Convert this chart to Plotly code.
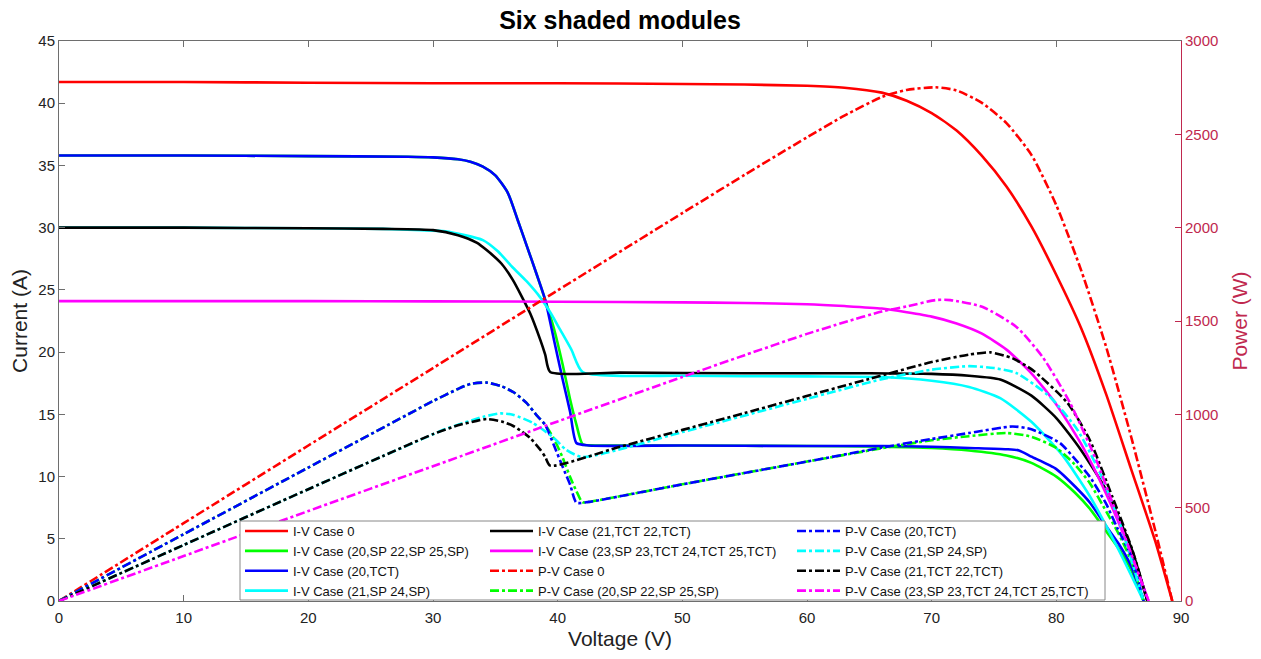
import plotly.graph_objects as go

# ---------------- data ----------------
# I-V Case 0
v_iv0 = [0, 10, 20, 30, 40, 50, 55, 60, 63, 66, 68, 70, 72, 74, 76, 78, 80, 82, 84, 86, 88, 89.3]
i_iv0 = [41.7, 41.7, 41.65, 41.6, 41.6, 41.55, 41.5, 41.4, 41.25, 40.85, 40.2, 39.2, 37.8, 35.8, 33.3, 30.1, 26.2, 21.9, 16.6, 10.6, 4.6, 0]

# I-V Case (20,SP 22,SP 25,SP)
v_iv20sp = [0, 10, 20, 28, 30, 32, 33, 34, 35, 36, 36.8, 37.5, 38.3, 39, 39.7, 40.4, 41, 41.5, 42, 43, 50, 60, 66, 70, 73, 76, 78, 80, 81.5, 82.7, 84, 85, 86, 87]
i_iv20sp = [35.8, 35.8, 35.75, 35.7, 35.65, 35.5, 35.3, 34.9, 34.2, 32.8, 30.6, 28.6, 26.3, 24.2, 21.9, 19.0, 16.2, 14.2, 12.6, 12.5, 12.5, 12.45, 12.4, 12.3, 12.1, 11.7, 11.1, 10.0, 8.7, 7.4, 5.6, 4.2, 2.5, 0]

# I-V Case (20,TCT)
v_iv20tct = [0, 10, 20, 28, 30, 32, 33, 34, 35, 36, 36.8, 37.5, 38.3, 39, 39.7, 40.4, 41, 41.5, 42.5, 50, 60, 66, 70, 73, 76, 77, 78, 80, 81.5, 82.7, 84, 85, 86, 87]
i_iv20tct = [35.8, 35.8, 35.75, 35.7, 35.65, 35.5, 35.3, 34.9, 34.2, 32.8, 30.6, 28.6, 26.3, 24.2, 21.0, 17.8, 15.2, 12.7, 12.5, 12.5, 12.45, 12.45, 12.4, 12.3, 12.2, 12.1, 11.6, 10.6, 9.2, 7.9, 6.0, 4.6, 2.8, 0]

# I-V Case (21,SP 24,SP)
v_iv21sp = [0, 10, 20, 26, 29, 31, 34.0, 35.2, 36.4, 37.5, 38.6, 39.4, 40.2, 41.1, 42.0, 50, 60, 66, 70, 73, 75.5, 78, 80.5, 82.7, 84.9, 87.0]
i_iv21sp = [30.0, 30.0, 29.95, 29.9, 29.8, 29.7, 29.0, 28.1, 26.8, 25.7, 24.4, 23.2, 21.8, 20.2, 18.4, 18.1, 18.05, 18.0, 17.7, 17.2, 16.3, 14.4, 11.7, 8.4, 4.3, 0]

# I-V Case (21,TCT 22,TCT)
v_iv21tct = [0, 10, 20, 26, 30, 32, 33.5, 34.3, 35.5, 36.4, 37.1, 37.8, 38.6, 39.0, 39.4, 45, 55, 65, 70, 73, 75.5, 78, 80, 82, 84, 86, 87.3]
i_iv21tct = [30.0, 30.0, 29.95, 29.9, 29.8, 29.4, 28.8, 28.2, 27.1, 25.8, 24.5, 23.1, 21.0, 19.8, 18.4, 18.35, 18.3, 18.3, 18.25, 18.1, 17.8, 16.5, 14.7, 12.1, 8.9, 4.3, 0]

# I-V Case (23,SP 23,TCT 24,TCT 25,TCT)
v_iv23 = [0, 10, 20, 30, 40, 50, 55, 60, 63, 66, 68, 70, 72, 74, 76, 78, 80, 82, 84, 86, 87.4]
i_iv23 = [24.1, 24.1, 24.1, 24.08, 24.05, 24.0, 23.95, 23.85, 23.7, 23.5, 23.2, 22.85, 22.3, 21.5, 20.2, 18.3, 15.8, 12.6, 8.6, 3.8, 0]

# P-V Case 0
v_pv0 = [0, 10, 20, 30, 40, 50, 55, 60, 63, 66, 68, 70.3, 72, 74, 76, 78, 80, 82, 84, 86, 88, 89.3]
p_pv0 = [0, 417, 833, 1248, 1664, 2078, 2283, 2484, 2600, 2700, 2738, 2752, 2735, 2670, 2560, 2390, 2120, 1770, 1360, 880, 360, 0]

# P-V Case (20,SP 22,SP 25,SP)
v_pv20sp = [0, 10, 20, 28, 30, 32, 33, 34.3, 35.5, 36.5, 37.5, 38.3, 39, 39.7, 40.4, 41, 41.5, 42, 43, 50, 60, 66, 70, 73, 76, 78, 80, 81.5, 82.7, 84, 85, 86, 87]
p_pv20sp = [0, 358, 715, 1000, 1071, 1136, 1163, 1170, 1150, 1117, 1061, 996, 944, 869, 768, 664, 589, 529, 537, 625, 747, 818, 861, 883, 900, 880, 820, 730, 630, 480, 360, 215, 0]

# P-V Case (20,TCT)
v_pv20tct = [0, 10, 20, 28, 30, 32, 33, 34.3, 35.5, 36.5, 37.5, 38.3, 39, 39.7, 40.4, 41, 41.5, 42.5, 50, 60, 66, 70, 73, 76.5, 78, 80.3, 81.5, 82.7, 84, 84.9, 86, 87]
p_pv20tct = [0, 358, 715, 1000, 1071, 1136, 1163, 1170, 1150, 1117, 1061, 996, 944, 834, 719, 623, 527, 531, 625, 747, 822, 868, 900, 935, 920, 846, 760, 664, 520, 390, 240, 0]

# P-V Case (21,SP 24,SP)
v_pv21sp = [0, 10, 20, 26, 29, 31, 34.0, 35.4, 36.4, 38.0, 39.6, 40.7, 42.0, 50, 60, 66, 70, 73, 75, 76.8, 79.5, 81.7, 83.5, 85.1, 87.0]
p_pv21sp = [0, 300, 599, 777, 864, 921, 986, 1005, 998, 954, 879, 809, 771, 905, 1083, 1188, 1239, 1258, 1248, 1221, 1093, 916, 686, 418, 0]

# P-V Case (21,TCT 22,TCT)
v_pv21tct = [0, 10, 20, 26, 30, 32, 33.5, 34.3, 35.5, 36.4, 37.1, 37.8, 38.6, 39.0, 39.4, 45, 55, 65, 70, 73, 74.7, 76.5, 78.1, 80.9, 82.7, 84.5, 86.1, 87.3]
p_pv21tct = [0, 300, 599, 777, 894, 941, 965, 975, 962, 939, 909, 873, 811, 772, 725, 826, 1007, 1190, 1280, 1320, 1332, 1300, 1237, 1061, 860, 557, 273, 0]

# P-V Case (23,SP 23,TCT 24,TCT 25,TCT)
v_pv23 = [0, 10, 20, 30, 40, 50, 55, 60, 63, 66, 68, 70.3, 71.5, 74.1, 76.8, 78.9, 81.1, 83.3, 85.3, 87.4]
p_pv23 = [0, 241, 482, 722, 962, 1200, 1317, 1431, 1493, 1551, 1578, 1612, 1612, 1575, 1468, 1307, 1061, 739, 380, 0]

x_ticks = [0, 10, 20, 30, 40, 50, 60, 70, 80, 90]
y_ticks = [0, 5, 10, 15, 20, 25, 30, 35, 40, 45]
y2_ticks = [0, 500, 1000, 1500, 2000, 2500, 3000]

# ---------------- figure ----------------
W, H = 1261, 659
L, R, T, B = 59, 80, 41, 58
PW, PH = W - L - R, H - T - B

FONT = "Arial, Liberation Sans, sans-serif"
RED2 = "#C0284E"
AXC = "#6e6e6e"

series = [
    ("I-V Case 0", v_iv0, i_iv0, "#FF0000", "solid", "y", "legend"),
    ("I-V Case (20,SP 22,SP 25,SP)", v_iv20sp, i_iv20sp, "#00FF00", "solid", "y", "legend"),
    ("I-V Case (20,TCT)", v_iv20tct, i_iv20tct, "#0000FF", "solid", "y", "legend"),
    ("I-V Case (21,SP 24,SP)", v_iv21sp, i_iv21sp, "#00FFFF", "solid", "y", "legend"),
    ("I-V Case (21,TCT 22,TCT)", v_iv21tct, i_iv21tct, "#000000", "solid", "y", "legend2"),
    ("I-V Case (23,SP 23,TCT 24,TCT 25,TCT)", v_iv23, i_iv23, "#FF00FF", "solid", "y", "legend2"),
    ("P-V Case 0", v_pv0, p_pv0, "#FF0000", "dashdot", "y2", "legend2"),
    ("P-V Case (20,SP 22,SP 25,SP)", v_pv20sp, p_pv20sp, "#00FF00", "dashdot", "y2", "legend2"),
    ("P-V Case (20,TCT)", v_pv20tct, p_pv20tct, "#0000FF", "dashdot", "y2", "legend3"),
    ("P-V Case (21,SP 24,SP)", v_pv21sp, p_pv21sp, "#00FFFF", "dashdot", "y2", "legend3"),
    ("P-V Case (21,TCT 22,TCT)", v_pv21tct, p_pv21tct, "#000000", "dashdot", "y2", "legend3"),
    ("P-V Case (23,SP 23,TCT 24,TCT 25,TCT)", v_pv23, p_pv23, "#FF00FF", "dashdot", "y2", "legend3"),
]

fig = go.Figure()
for name, xs, ys, col, dash, yax, leg in series:
    fig.add_trace(go.Scatter(
        x=xs, y=ys, name=name, mode="lines", yaxis=yax, legend=leg,
        line=dict(color=col, width=2.6, dash=dash, shape="spline", smoothing=0.6),
    ))

def px_x(p):
    return (p - L) / PW

def px_y(p):
    return (H - B - p) / PH

legend_common = dict(
    bgcolor="rgba(0,0,0,0)", borderwidth=0, orientation="v",
    font=dict(family=FONT, size=13, color="#111"),
    yanchor="top", xanchor="left", y=px_y(516), itemwidth=43, tracegroupgap=0,
)

fig.update_layout(
    width=W, height=H,
    margin=dict(l=L, r=R, t=T, b=B),
    paper_bgcolor="white", plot_bgcolor="white",
    font=dict(family=FONT, color="#111"),
    title=dict(text="<b>Six shaded modules</b>", x=620 / W, xanchor="center",
               y=1 - 20 / H, yanchor="middle", yref="container",
               font=dict(size=25, family=FONT, color="#000")),
    xaxis=dict(range=[0, 90], tickvals=x_ticks, showgrid=False, zeroline=False,
               showline=True, linecolor=AXC, linewidth=1, mirror="ticks",
               ticks="inside", ticklen=6, tickcolor=AXC, ticklabelstandoff=3,
               tickfont=dict(size=15, color="#222"),
               title=dict(text="Voltage (V)", font=dict(size=21, color="#222"), standoff=6)),
    yaxis=dict(range=[0, 45], tickvals=y_ticks, showgrid=False, zeroline=False,
               showline=True, linecolor=AXC, linewidth=1,
               ticks="inside", ticklen=6, tickcolor=AXC,
               tickfont=dict(size=15, color="#222"),
               title=dict(text="Current (A)", font=dict(size=21, color="#222"), standoff=4)),
    yaxis2=dict(range=[0, 3000], tickvals=y2_ticks, overlaying="y", side="right",
                showgrid=False, zeroline=False,
                showline=True, linecolor=RED2, linewidth=1,
                ticks="inside", ticklen=6, tickcolor=RED2,
                tickfont=dict(size=15, color=RED2),
                title=dict(text="Power (W)", font=dict(size=21, color=RED2), standoff=14)),
    legend=dict(legend_common, x=px_x(240)),
    legend2=dict(legend_common, x=px_x(485)),
    legend3=dict(legend_common, x=px_x(792)),
    shapes=[dict(type="rect", xref="paper", yref="paper",
                 x0=px_x(240), x1=px_x(1105), y0=px_y(600), y1=px_y(521),
                 fillcolor="white", line=dict(color="#888", width=1), layer="above")],
    showlegend=True,
)

fig.write_html("out.html")
